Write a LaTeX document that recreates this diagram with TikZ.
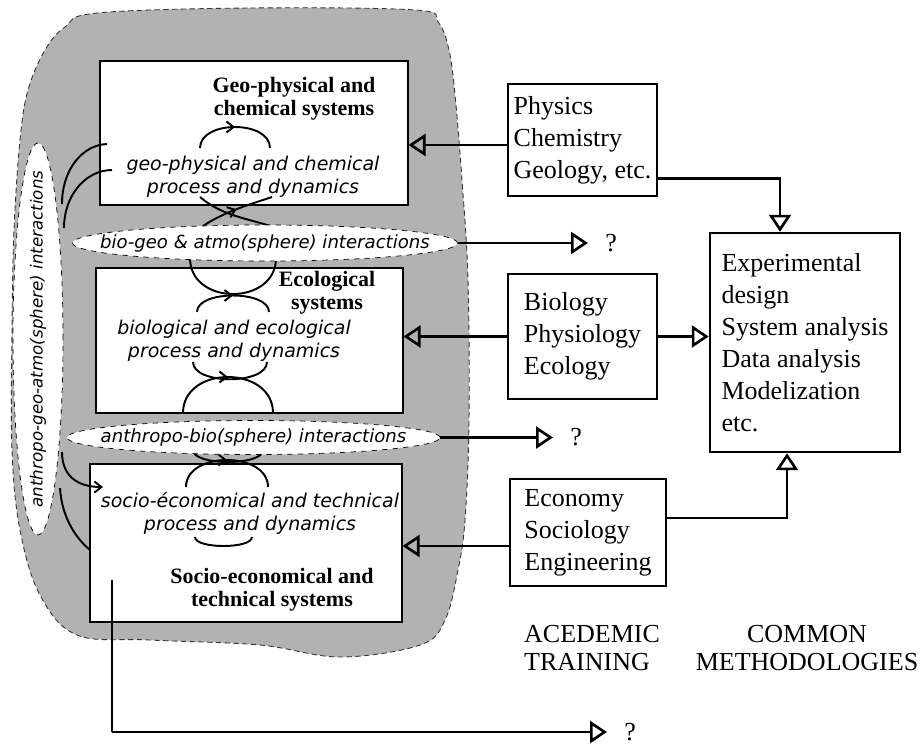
\documentclass[tikz,border=0pt]{standalone}
\usepackage{fontspec}
\setmainfont{Liberation Serif}
\newfontfamily\procfont{DejaVu Sans}
\usetikzlibrary{arrows.meta,shapes.geometric,calc,decorations.markings}

\begin{document}
\begin{tikzpicture}[x=0.02cm, y=-0.02cm,
  sysbox/.style={draw, fill=white, line width=0.6pt, inner sep=0},
  discbox/.style={draw, line width=1.4pt, align=left, inner sep=0,
    font=\fontsize{14.8}{18.2}\selectfont},
  title/.style={font=\bfseries\fontsize{12.5}{13}\selectfont, align=center},
  proc/.style={font=\procfont\itshape\fontsize{10.8}{13}\selectfont, align=center},
  inter/.style={ellipse, draw, dashed, fill=white, inner sep=0},
  intertext/.style={inner sep=0, font=\procfont\itshape\fontsize{10.3}{12}\selectfont},
  conn/.style={line width=1.5pt, -{Triangle[open, length=0.34cm, width=0.44cm]}},
  cyc/.style={line width=1.1pt},
  cycarrow/.style={cyc, postaction={decorate},
    decoration={markings, mark=at position 0.5 with {\arrow{Straight Barb[length=0.14cm, width=0.22cm]}}}},
  quest/.style={anchor=west, inner xsep=0.34cm, inner ysep=0, font=\fontsize{14.8}{18}\selectfont},
  label/.style={font=\fontsize{14.8}{16}\selectfont}
]

\def\pxl{0.02cm}

\useasboundingbox (0,0) rectangle (920,745);

% the grey cloud round the three systems
\draw[fill=black!30, draw=black!80, densely dashed, line width=0.5pt]
  plot[smooth cycle, tension=0.6] coordinates {
    (97,13) (250,8) (415,10) (438,22) (449,50) (455,95) (462,180) (468,280)
    (469,420) (465,520) (458,570) (445,620) (420,645) (340,657) (260,645)
    (150,640) (77,635) (40,595) (20,530) (12,450) (12,330) (14,230)
    (20,140) (28,90) (45,50) (65,27)};

% the three systems
\node[sysbox, minimum width=308*\pxl, minimum height=144*\pxl] (geo) at (254,133) {};
\node[sysbox, minimum width=307*\pxl, minimum height=145*\pxl] (eco) at (249.5,340.5) {};
\node[sysbox, minimum width=312*\pxl, minimum height=158*\pxl] (soc) at (246,543) {};

% process cycles
\draw[cycarrow] (200,148) .. controls (200,120) and (270,120) .. (270,148);
\draw[cyc] (200,197) .. controls (222,216) and (250,219) .. (270,226);
\draw[cycarrow] (203,226) .. controls (224,212) and (248,205) .. (272,197);

\draw[cyc] (190,258) .. controls (190,306) and (276,306) .. (276,258);
\draw[cycarrow] (197,312) .. controls (197,290) and (269,290) .. (269,312);
\draw[cyc] (193,362) .. controls (193,385) and (267,385) .. (267,362);
\draw[cycarrow] (183,413) .. controls (183,365) and (273,365) .. (273,413);

\draw[cyc] (193,450) .. controls (193,466) and (263,466) .. (263,450);
\draw[cycarrow] (186,487) .. controls (186,451) and (268,451) .. (268,487);
\draw[cyc] (195,537) .. controls (195,549) and (252,549) .. (252,537);

% interactions
\node[inter, minimum width=385*\pxl, minimum height=36*\pxl] (biogeo) at (265,243) {};
\node[intertext] at (biogeo) {bio-geo \& atmo(sphere) interactions};
\node[inter, minimum width=373*\pxl, minimum height=34*\pxl] (anthbio) at (253.5,437.5) {};
\node[intertext] at (anthbio) {anthropo-bio(sphere) interactions};
\node[inter, minimum width=50*\pxl, minimum height=392*\pxl] (anthgeo) at (38,339) {};
\node[intertext, rotate=90, font=\procfont\itshape\fontsize{9.5}{11}\selectfont]
  at (anthgeo) {anthropo-geo-atmo(sphere) interactions};

\draw[cyc] (62,204) .. controls (62,170) and (82,145) .. (107,144);
\draw[cyc] (64,228) .. controls (64,195) and (86,170) .. (112,170);
\draw[cyc, -{Straight Barb[length=0.14cm, width=0.22cm]}]
  (62,452) .. controls (62,478) and (80,487) .. (103,487);
\draw[cyc] (60,488) .. controls (62,520) and (78,540) .. (90,550);

% texts in the systems
\node[title] (geot) at (294,99) {Geo-physical and\\chemical systems};
\node[proc] (geop) at (253,177) {geo-physical and chemical\\process and dynamics};
\node[title] (ecot) at (327,293) {Ecological\\systems};
\node[proc] (ecop) at (234,341) {biological and ecological\\process and dynamics};
\node[proc] (socp) at (250,513) {socio-économical and technical\\process and dynamics};
\node[title] (soct) at (272,590) {Socio-economical and\\technical systems};

% academic training
\node[discbox, minimum width=149*\pxl, minimum height=112*\pxl] (phys) at (582.5,140)
  {Physics\\Chemistry\\Geology, etc.};
\node[discbox, minimum width=149*\pxl, minimum height=125*\pxl] (bio) at (582.5,336.5)
  {Biology\\Physiology\\Ecology};
\node[discbox, minimum width=156*\pxl, minimum height=107*\pxl] (econ) at (588,532.5)
  {Economy\\Sociology\\Engineering};

% common methodologies
\node[discbox, minimum width=190*\pxl, minimum height=219*\pxl] (meth) at (805,342.5)
  {Experimental\\design\\System analysis\\Data analysis\\Modelization\\etc.};

\node[label, anchor=west, align=left] (acad) at (518,648) {ACEDEMIC\\TRAINING};
\node[label, align=center] (common) at (807,648) {COMMON\\METHODOLOGIES};

% open questions
\node[quest] (q1) at (588,243) {?};
\node[quest] (q2) at (553,437.5) {?};
\node[quest] (q3) at (607,732) {?};

% connectors
\draw[conn] (phys.west |- 0,145) -- (geo.east |- 0,145);
\draw[conn] ([yshift=0.38cm]phys.south east) -| ([xshift=-0.5cm]meth.north);
\draw[conn] (bio.west) -- (bio.west -| eco.east);
\draw[conn] (bio.east) -- (bio.east -| meth.west);
\draw[conn] ([yshift=-0.27cm]econ.west) -- ([yshift=-0.27cm]econ.west -| soc.east);
\draw[conn] ([yshift=0.29cm]econ.east) -| ([xshift=-0.36cm]meth.south);
\draw[conn] (biogeo.east) -- (q1.west);
\draw[conn] (anthbio.east) -- (q2.west);

\coordinate (bstart) at (112,580);
\coordinate (bcorner) at (112,732);
\draw[line width=0.6pt] (bstart) -- (bcorner);
\draw[conn] (bcorner) -- (q3.west);

\end{tikzpicture}
\end{document}
